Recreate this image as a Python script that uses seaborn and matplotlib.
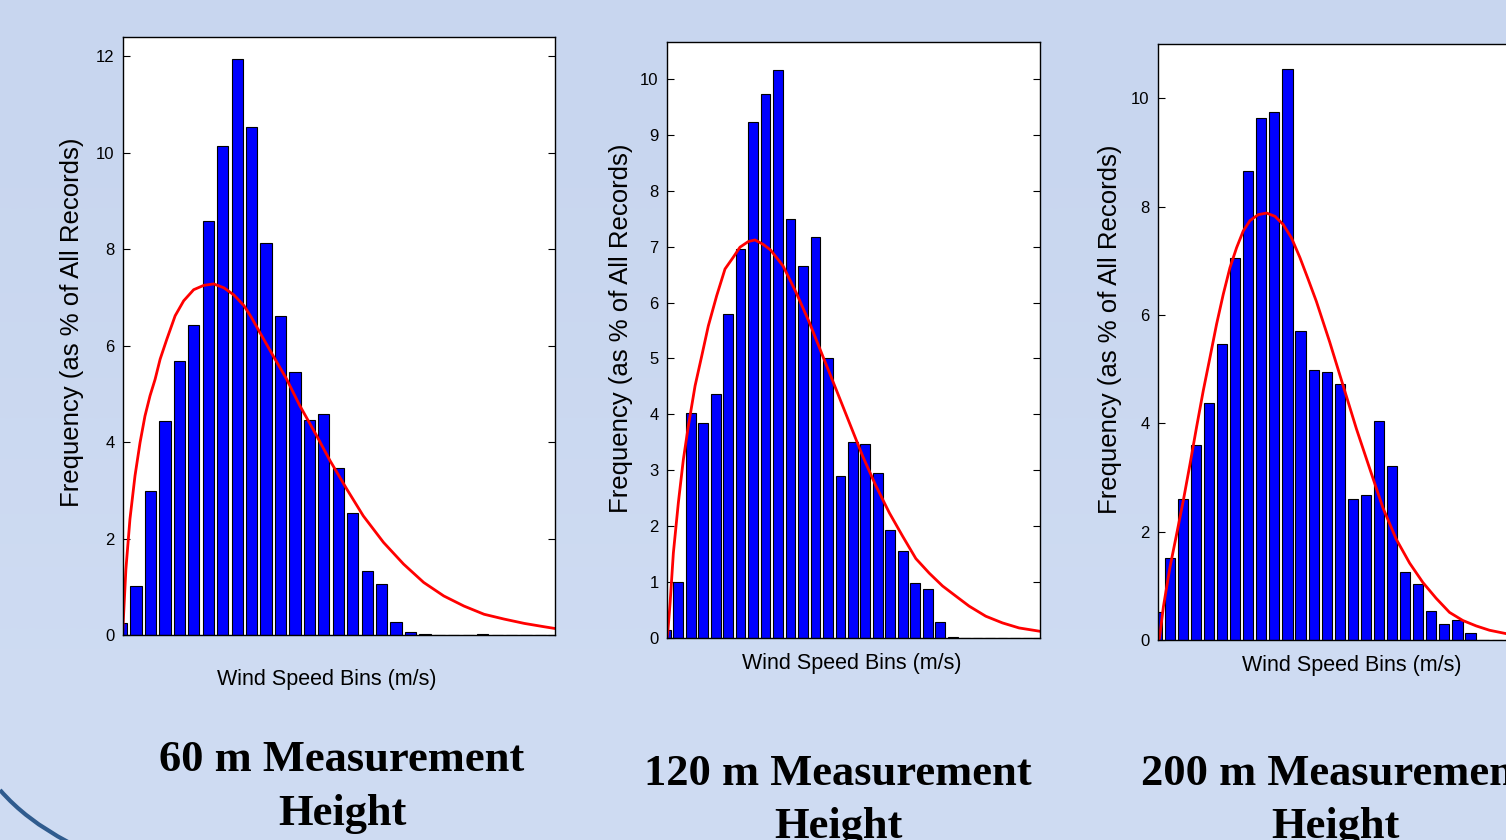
import numpy as np
import pandas as pd
import matplotlib
matplotlib.use("Agg")
import matplotlib.pyplot as plt
from matplotlib.path import Path
from matplotlib.patches import PathPatch
import seaborn as sns

# bar heights, % of all records, one per wind speed bin
bins = list(range(30))
freq_60 = [0.25, 1.01, 2.98, 4.44, 5.69, 6.43, 8.59, 10.13, 11.95, 10.53,
           8.12, 6.62, 5.46, 4.46, 4.59, 3.46, 2.53, 1.33, 1.05, 0.26,
           0.06, 0.02, 0, 0, 0, 0.02, 0, 0, 0, 0]
freq_120 = [0.14, 1.01, 4.03, 3.84, 4.37, 5.79, 6.95, 9.23, 9.73, 10.16,
            7.49, 6.66, 7.17, 5.01, 2.89, 3.51, 3.47, 2.96, 1.94, 1.56,
            0.99, 0.87, 0.28, 0.02, 0, 0, 0, 0, 0, 0]
freq_200 = [0.52, 1.51, 2.61, 3.59, 4.37, 5.47, 7.05, 8.66, 9.63, 9.75,
            10.53, 5.71, 4.98, 4.95, 4.73, 2.61, 2.67, 4.05, 3.21, 1.25,
            1.03, 0.53, 0.29, 0.36, 0.13, 0, 0, 0, 0, 0]

# fitted distribution curves
fit_x_60 = [0.07, 0.3, 0.58, 0.93, 1.28, 1.62, 1.97, 2.32, 2.67, 3.13, 3.71, 4.3,
            4.99, 5.69, 6.38, 7.08, 7.78, 8.47, 9.0, 9.54, 10.47, 11.4, 12.33,
            13.49, 14.42, 15.58, 16.73, 18.13, 19.52, 20.91, 22.3, 23.7, 25.09,
            26.48, 27.88, 29.27, 30.1]
fit_y_60 = [0.0, 1.36, 2.4, 3.3, 3.99, 4.54, 4.96, 5.3, 5.72, 6.13, 6.62, 6.93,
            7.16, 7.25, 7.28, 7.2, 7.05, 6.83, 6.58, 6.29, 5.8, 5.32, 4.76,
            4.14, 3.62, 3.03, 2.47, 1.92, 1.47, 1.09, 0.81, 0.6, 0.43,
            0.33, 0.24, 0.17, 0.13]

fit_x_120 = [0.1, 0.16, 0.35, 0.61, 1.01, 1.41, 1.81, 2.35, 2.88, 3.41, 4.08, 4.75,
             5.41, 5.95, 6.61, 7.15, 7.81, 8.4, 9.39, 10.45, 11.52, 12.59, 13.65,
             14.72, 15.79, 16.85, 17.92, 18.99, 20.05, 21.12, 22.19, 23.25, 24.32,
             25.65, 26.99, 28.32, 30.0]
fit_y_120 = [0.0, 0.09, 0.63, 1.52, 2.42, 3.19, 3.79, 4.51, 5.04, 5.58, 6.12, 6.6,
             6.81, 6.99, 7.09, 7.12, 7.04, 6.94, 6.66, 6.18, 5.64, 5.04, 4.45,
             3.85, 3.25, 2.72, 2.24, 1.82, 1.42, 1.16, 0.93, 0.75, 0.57,
             0.39, 0.27, 0.18, 0.12]

fit_x_200 = [0.13, 0.21, 0.51, 1.02, 1.53, 2.04, 2.55, 3.05, 3.56, 4.07, 4.58, 5.09,
             5.6, 6.11, 6.62, 7.13, 7.76, 8.4, 9.04, 9.67, 10.31, 10.95, 11.58,
             12.21, 13.23, 14.25, 15.27, 16.28, 17.3, 18.32, 19.34, 20.36, 21.37,
             22.39, 23.41, 24.43, 25.45, 26.67, 28.0, 30.0]
fit_y_200 = [0.0, 0.03, 0.61, 1.35, 1.96, 2.58, 3.25, 3.93, 4.6, 5.21, 5.83, 6.38,
             6.87, 7.24, 7.55, 7.74, 7.85, 7.88, 7.82, 7.67, 7.42, 7.06, 6.66,
             6.25, 5.5, 4.7, 3.9, 3.17, 2.44, 1.86, 1.42, 1.06, 0.77,
             0.51, 0.36, 0.26, 0.18, 0.12, 0.07, 0.04]

titles = ["60 m Measurement", "120 m Measurement", "200 m Measurement"]
xlabel = "Wind Speed Bins (m/s)"
ylabel = "Frequency (as % of All Records)"

sns.set_style("ticks")
plt.rcParams["font.family"] = ["Liberation Sans", "DejaVu Sans"]
plt.rcParams["text.color"] = "black"

W, H = 1506, 840
fig = plt.figure(figsize=(W / 100, H / 100), dpi=100)
fig.patch.set_facecolor("#CBD8F0")

# soft vertical gradient of the slide background
bg = fig.add_axes([0, 0, 1, 1], zorder=-10)
bg.imshow(np.array([[[200, 214, 239]], [[207, 220, 243]]]) / 255.0,
          aspect="auto", extent=[0, 1, 0, 1], interpolation="bicubic")
bg.axis("off")


def px_axes(l, t, r, b):
    return fig.add_axes([l / W, 1 - b / H, (r - l) / W, (b - t) / H])


panels = [
    dict(box=(123, 37, 555, 635), freq=freq_60, fx=fit_x_60, fy=fit_y_60,
         ytop=12.4, yticks=range(0, 13, 2), ylab=(72, 322), xlab=(327, 680),
         title=(342, 771, 825)),
    dict(box=(667, 42, 1040, 638), freq=freq_120, fx=fit_x_120, fy=fit_y_120,
         ytop=10.66, yticks=range(0, 11), ylab=(621, 328), xlab=(852, 664),
         title=(838, 785, 838)),
    dict(box=(1158, 44, 1549, 640), freq=freq_200, fx=fit_x_200, fy=fit_y_200,
         ytop=11.0, yticks=range(0, 11, 2), ylab=(1110, 329), xlab=(1352, 666),
         title=(1335, 785, 838)),
]

for p, title in zip(panels, titles):
    ax = px_axes(*p["box"])
    ax.set_facecolor("white")
    df = pd.DataFrame({"bin": bins, "freq": p["freq"]})
    sns.barplot(data=df, x="bin", y="freq", native_scale=True, orient="x",
                color="#0000FF", saturation=1, width=0.78, edgecolor="black",
                linewidth=0.8, errorbar=None, ax=ax)
    sns.lineplot(x=p["fx"], y=p["fy"], color="#FF0000", linewidth=2.0,
                 sort=False, ax=ax)
    ax.set_xlim(0.1, 30)
    ax.set_ylim(0, p["ytop"])
    ax.set_xticks([])
    ax.set_yticks(list(p["yticks"]))
    ax.set_xlabel("")
    ax.set_ylabel("")
    ax.tick_params(axis="y", direction="in", left=True, right=True, length=5,
                   width=0.8, labelsize=12, pad=6, colors="black")
    for s in ax.spines.values():
        s.set_visible(True)
        s.set_color("black")
        s.set_linewidth(1.0)

    fig.text(p["ylab"][0] / W, 1 - p["ylab"][1] / H, ylabel, rotation=90,
             ha="center", va="center", fontsize=18.5, color="black")
    fig.text(p["xlab"][0] / W, 1 - p["xlab"][1] / H, xlabel,
             ha="center", va="center", fontsize=15.5, color="black")
    cx, b1, b2 = p["title"]
    fig.text(cx / W, 1 - b1 / H, title, ha="center", va="baseline",
             fontsize=32, fontweight="bold", family="Liberation Serif",
             color="black")
    fig.text(cx / W, 1 - b2 / H, "Height", ha="center", va="baseline",
             fontsize=32, fontweight="bold", family="Liberation Serif",
             color="black")

# slide decoration arc in the lower left corner
pts = [(0, 790), (26, 820), (68, 842)]
verts = [(x / W, 1 - y / H) for x, y in pts]
arc = PathPatch(Path(verts, [Path.MOVETO, Path.CURVE3, Path.CURVE3]),
                transform=fig.transFigure, facecolor="none",
                edgecolor="#2F5B8E", linewidth=3)
fig.add_artist(arc)

fig.savefig("out.png", dpi=100, facecolor=fig.get_facecolor())
